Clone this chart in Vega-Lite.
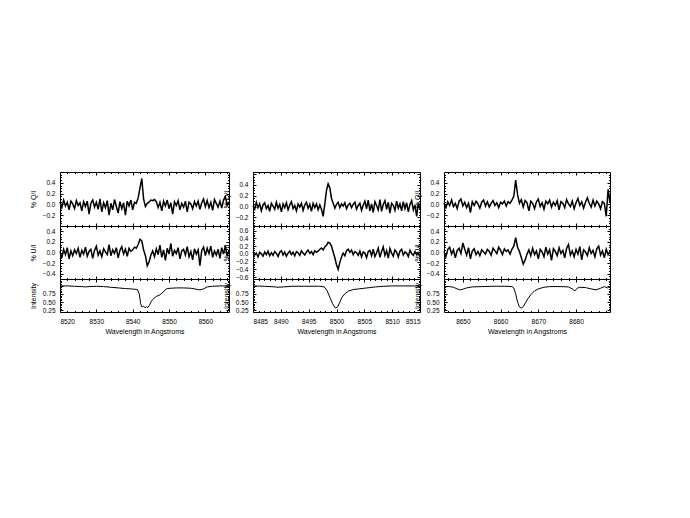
{
  "$schema": "https://vega.github.io/schema/vega-lite/v6.json",
  "autosize": {"type": "none"},
  "padding": {"left": 60, "top": 172, "right": 630, "bottom": 346},
  "background": "white",
  "config": {
    "view": {"stroke": "black", "strokeWidth": 1},
    "axis": {"grid": false, "domain": false, "tickColor": "black", "labelPadding": 8, "labelFontSize": 6.5, "titleFontSize": 7, "labelFont": "Liberation Sans", "titleFont": "Liberation Sans", "labelColor": "black", "titleColor": "black", "titleFontWeight": "normal", "titlePadding": 6, "labelOverlap": false},
    "axisX": {"titlePadding": 1},
    "axisTop": {"labels": false, "title": null},
    "axisRight": {"labels": false, "title": null},
    "line": {"color": "black", "strokeWidth": 1.5, "clip": true}
  },
  "datasets": {
    "q1": [{"w":8520.0,"v":0.05},{"w":8520.5,"v":-0.06},{"w":8521.0,"v":0.08},{"w":8521.5,"v":-0.03},{"w":8522.0,"v":0.04},{"w":8522.5,"v":-0.10},{"w":8523.0,"v":0.06},{"w":8523.5,"v":0.01},{"w":8524.0,"v":-0.08},{"w":8524.5,"v":0.07},{"w":8525.0,"v":-0.02},{"w":8525.5,"v":0.03},{"w":8526.0,"v":-0.12},{"w":8526.5,"v":0.05},{"w":8527.0,"v":-0.04},{"w":8527.5,"v":0.06},{"w":8528.0,"v":-0.18},{"w":8528.5,"v":0.02},{"w":8529.0,"v":0.08},{"w":8529.5,"v":-0.05},{"w":8530.0,"v":0.04},{"w":8530.5,"v":-0.09},{"w":8531.0,"v":0.10},{"w":8531.5,"v":-0.14},{"w":8532.0,"v":0.03},{"w":8532.5,"v":-0.06},{"w":8533.0,"v":0.07},{"w":8533.5,"v":-0.20},{"w":8534.0,"v":0.02},{"w":8534.5,"v":-0.10},{"w":8535.0,"v":0.09},{"w":8535.5,"v":-0.04},{"w":8536.0,"v":-0.16},{"w":8536.5,"v":0.05},{"w":8537.0,"v":-0.08},{"w":8537.5,"v":0.03},{"w":8538.0,"v":-0.20},{"w":8538.5,"v":0.06},{"w":8539.0,"v":-0.03},{"w":8539.5,"v":0.08},{"w":8540.0,"v":-0.10},{"w":8540.5,"v":0.04},{"w":8541.0,"v":0.02},{"w":8541.5,"v":0.12},{"w":8542.0,"v":0.30},{"w":8542.5,"v":0.48},{"w":8543.0,"v":0.10},{"w":8543.5,"v":-0.04},{"w":8544.0,"v":0.02},{"w":8544.5,"v":0.04},{"w":8545.0,"v":0.08},{"w":8545.5,"v":0.07},{"w":8546.0,"v":0.09},{"w":8546.5,"v":0.05},{"w":8547.0,"v":-0.06},{"w":8547.5,"v":0.04},{"w":8548.0,"v":-0.12},{"w":8548.5,"v":0.06},{"w":8549.0,"v":-0.03},{"w":8549.5,"v":0.08},{"w":8550.0,"v":-0.08},{"w":8550.5,"v":0.03},{"w":8551.0,"v":-0.18},{"w":8551.5,"v":0.05},{"w":8552.0,"v":-0.02},{"w":8552.5,"v":0.07},{"w":8553.0,"v":-0.10},{"w":8553.5,"v":0.02},{"w":8554.0,"v":-0.05},{"w":8554.5,"v":0.06},{"w":8555.0,"v":-0.14},{"w":8555.5,"v":0.04},{"w":8556.0,"v":0.01},{"w":8556.5,"v":-0.08},{"w":8557.0,"v":0.05},{"w":8557.5,"v":-0.03},{"w":8558.0,"v":0.06},{"w":8558.5,"v":-0.09},{"w":8559.0,"v":0.03},{"w":8559.5,"v":0.10},{"w":8560.0,"v":-0.04},{"w":8560.5,"v":0.07},{"w":8561.0,"v":-0.06},{"w":8561.5,"v":0.04},{"w":8562.0,"v":-0.11},{"w":8562.5,"v":0.09},{"w":8563.0,"v":0.02},{"w":8563.5,"v":-0.05},{"w":8564.0,"v":0.06},{"w":8564.5,"v":-0.07},{"w":8565.0,"v":0.08},{"w":8565.5,"v":0.14},{"w":8566.0,"v":-0.02},{"w":8566.5,"v":0.05}],
    "u1": [{"w":8520.0,"v":0.02},{"w":8520.5,"v":-0.10},{"w":8521.0,"v":0.06},{"w":8521.5,"v":-0.04},{"w":8522.0,"v":0.09},{"w":8522.5,"v":-0.12},{"w":8523.0,"v":0.03},{"w":8523.5,"v":-0.06},{"w":8524.0,"v":0.05},{"w":8524.5,"v":-0.02},{"w":8525.0,"v":0.08},{"w":8525.5,"v":-0.09},{"w":8526.0,"v":0.04},{"w":8526.5,"v":-0.03},{"w":8527.0,"v":0.10},{"w":8527.5,"v":-0.07},{"w":8528.0,"v":0.02},{"w":8528.5,"v":0.06},{"w":8529.0,"v":-0.11},{"w":8529.5,"v":0.04},{"w":8530.0,"v":0.12},{"w":8530.5,"v":-0.05},{"w":8531.0,"v":0.03},{"w":8531.5,"v":-0.08},{"w":8532.0,"v":0.07},{"w":8532.5,"v":0.01},{"w":8533.0,"v":-0.04},{"w":8533.5,"v":0.15},{"w":8534.0,"v":-0.06},{"w":8534.5,"v":0.05},{"w":8535.0,"v":-0.02},{"w":8535.5,"v":0.09},{"w":8536.0,"v":-0.10},{"w":8536.5,"v":0.04},{"w":8537.0,"v":0.11},{"w":8537.5,"v":-0.03},{"w":8538.0,"v":0.06},{"w":8538.5,"v":-0.07},{"w":8539.0,"v":0.08},{"w":8539.5,"v":0.02},{"w":8540.0,"v":0.05},{"w":8540.5,"v":0.10},{"w":8541.0,"v":0.08},{"w":8541.5,"v":0.15},{"w":8542.0,"v":0.25},{"w":8542.5,"v":0.22},{"w":8543.0,"v":0.05},{"w":8543.5,"v":-0.06},{"w":8544.0,"v":-0.25},{"w":8544.5,"v":-0.18},{"w":8545.0,"v":-0.05},{"w":8545.5,"v":0.03},{"w":8546.0,"v":-0.08},{"w":8546.5,"v":0.07},{"w":8547.0,"v":-0.04},{"w":8547.5,"v":0.14},{"w":8548.0,"v":-0.09},{"w":8548.5,"v":0.05},{"w":8549.0,"v":-0.15},{"w":8549.5,"v":0.08},{"w":8550.0,"v":-0.03},{"w":8550.5,"v":0.17},{"w":8551.0,"v":-0.07},{"w":8551.5,"v":0.04},{"w":8552.0,"v":-0.02},{"w":8552.5,"v":0.09},{"w":8553.0,"v":-0.12},{"w":8553.5,"v":0.03},{"w":8554.0,"v":0.06},{"w":8554.5,"v":-0.05},{"w":8555.0,"v":0.11},{"w":8555.5,"v":-0.08},{"w":8556.0,"v":0.02},{"w":8556.5,"v":-0.14},{"w":8557.0,"v":0.07},{"w":8557.5,"v":-0.03},{"w":8558.0,"v":0.05},{"w":8558.5,"v":-0.25},{"w":8559.0,"v":0.04},{"w":8559.5,"v":0.10},{"w":8560.0,"v":-0.06},{"w":8560.5,"v":0.08},{"w":8561.0,"v":-0.02},{"w":8561.5,"v":0.12},{"w":8562.0,"v":-0.09},{"w":8562.5,"v":0.03},{"w":8563.0,"v":-0.05},{"w":8563.5,"v":0.06},{"w":8564.0,"v":-0.11},{"w":8564.5,"v":0.09},{"w":8565.0,"v":-0.03},{"w":8565.5,"v":0.13},{"w":8566.0,"v":-0.07},{"w":8566.5,"v":0.04}],
    "i1": [{"w":8520,"v":0.99},{"w":8522,"v":0.99},{"w":8524,"v":0.98},{"w":8526,"v":0.97},{"w":8527,"v":0.96},{"w":8528,"v":0.97},{"w":8530,"v":0.98},{"w":8532,"v":0.97},{"w":8534,"v":0.95},{"w":8536,"v":0.93},{"w":8538,"v":0.91},{"w":8539.5,"v":0.90},{"w":8540.5,"v":0.89},{"w":8541.3,"v":0.88},{"w":8541.8,"v":0.75},{"w":8542.2,"v":0.45},{"w":8542.6,"v":0.35},{"w":8543.0,"v":0.38},{"w":8543.4,"v":0.33},{"w":8543.8,"v":0.36},{"w":8544.2,"v":0.34},{"w":8544.6,"v":0.40},{"w":8545.0,"v":0.50},{"w":8545.5,"v":0.58},{"w":8546.0,"v":0.63},{"w":8546.5,"v":0.67},{"w":8547.5,"v":0.72},{"w":8548.5,"v":0.82},{"w":8549.0,"v":0.88},{"w":8549.5,"v":0.91},{"w":8550.5,"v":0.92},{"w":8552,"v":0.93},{"w":8554,"v":0.93},{"w":8556,"v":0.92},{"w":8557.5,"v":0.89},{"w":8558.5,"v":0.87},{"w":8559.5,"v":0.90},{"w":8560.5,"v":0.96},{"w":8562,"v":0.98},{"w":8564,"v":0.99},{"w":8566.5,"v":0.99}],
    "q2": [{"w":8485.0,"v":0.02},{"w":8485.3,"v":-0.05},{"w":8485.6,"v":0.08},{"w":8485.9,"v":-0.02},{"w":8486.2,"v":0.05},{"w":8486.5,"v":-0.08},{"w":8486.8,"v":0.03},{"w":8487.1,"v":0.07},{"w":8487.4,"v":-0.04},{"w":8487.7,"v":0.02},{"w":8488.0,"v":-0.09},{"w":8488.3,"v":0.06},{"w":8488.6,"v":0.01},{"w":8488.9,"v":-0.05},{"w":8489.2,"v":0.08},{"w":8489.5,"v":-0.03},{"w":8489.8,"v":0.04},{"w":8490.1,"v":-0.10},{"w":8490.4,"v":0.05},{"w":8490.7,"v":-0.02},{"w":8491.0,"v":0.07},{"w":8491.3,"v":-0.06},{"w":8491.6,"v":0.03},{"w":8491.9,"v":0.09},{"w":8492.2,"v":-0.04},{"w":8492.5,"v":0.02},{"w":8492.8,"v":-0.08},{"w":8493.1,"v":0.05},{"w":8493.4,"v":-0.01},{"w":8493.7,"v":0.06},{"w":8494.0,"v":-0.07},{"w":8494.3,"v":0.03},{"w":8494.6,"v":0.08},{"w":8494.9,"v":-0.03},{"w":8495.2,"v":0.04},{"w":8495.5,"v":-0.09},{"w":8495.8,"v":0.06},{"w":8496.1,"v":-0.02},{"w":8496.4,"v":0.05},{"w":8496.7,"v":-0.06},{"w":8497.0,"v":0.03},{"w":8497.3,"v":-0.05},{"w":8497.6,"v":-0.18},{"w":8497.9,"v":0.05},{"w":8498.2,"v":0.30},{"w":8498.5,"v":0.42},{"w":8498.8,"v":0.35},{"w":8499.1,"v":0.15},{"w":8499.4,"v":0.06},{"w":8499.7,"v":-0.03},{"w":8500.0,"v":0.04},{"w":8500.3,"v":0.08},{"w":8500.6,"v":-0.02},{"w":8500.9,"v":0.05},{"w":8501.2,"v":0.01},{"w":8501.5,"v":0.07},{"w":8501.8,"v":-0.04},{"w":8502.1,"v":0.03},{"w":8502.4,"v":0.06},{"w":8502.7,"v":-0.02},{"w":8503.0,"v":0.04},{"w":8503.3,"v":0.08},{"w":8503.6,"v":-0.05},{"w":8503.9,"v":0.02},{"w":8504.2,"v":0.06},{"w":8504.5,"v":-0.07},{"w":8504.8,"v":0.03},{"w":8505.1,"v":0.10},{"w":8505.4,"v":-0.04},{"w":8505.7,"v":0.12},{"w":8506.0,"v":-0.08},{"w":8506.3,"v":0.05},{"w":8506.6,"v":-0.11},{"w":8506.9,"v":0.09},{"w":8507.2,"v":0.02},{"w":8507.5,"v":-0.06},{"w":8507.8,"v":0.13},{"w":8508.1,"v":-0.09},{"w":8508.4,"v":0.04},{"w":8508.7,"v":0.11},{"w":8509.0,"v":-0.05},{"w":8509.3,"v":0.08},{"w":8509.6,"v":-0.12},{"w":8509.9,"v":0.06},{"w":8510.2,"v":0.02},{"w":8510.5,"v":-0.07},{"w":8510.8,"v":0.10},{"w":8511.1,"v":-0.03},{"w":8511.4,"v":0.05},{"w":8511.7,"v":-0.08},{"w":8512.0,"v":0.09},{"w":8512.3,"v":-0.04},{"w":8512.6,"v":0.07},{"w":8512.9,"v":-0.10},{"w":8513.2,"v":0.04},{"w":8513.5,"v":0.11},{"w":8513.8,"v":-0.06},{"w":8514.1,"v":0.03},{"w":8514.4,"v":-0.18},{"w":8514.7,"v":0.06},{"w":8515.0,"v":-0.04}],
    "u2": [{"w":8485.0,"v":0.05},{"w":8485.3,"v":-0.03},{"w":8485.6,"v":0.02},{"w":8485.9,"v":-0.08},{"w":8486.2,"v":0.04},{"w":8486.5,"v":0.00},{"w":8486.8,"v":-0.06},{"w":8487.1,"v":0.05},{"w":8487.4,"v":-0.02},{"w":8487.7,"v":0.07},{"w":8488.0,"v":-0.05},{"w":8488.3,"v":0.03},{"w":8488.6,"v":-0.04},{"w":8488.9,"v":0.06},{"w":8489.2,"v":0.01},{"w":8489.5,"v":-0.07},{"w":8489.8,"v":0.04},{"w":8490.1,"v":0.08},{"w":8490.4,"v":-0.03},{"w":8490.7,"v":0.05},{"w":8491.0,"v":-0.06},{"w":8491.3,"v":0.02},{"w":8491.6,"v":0.07},{"w":8491.9,"v":-0.02},{"w":8492.2,"v":0.04},{"w":8492.5,"v":-0.05},{"w":8492.8,"v":0.06},{"w":8493.1,"v":0.03},{"w":8493.4,"v":-0.04},{"w":8493.7,"v":0.08},{"w":8494.0,"v":0.02},{"w":8494.3,"v":-0.03},{"w":8494.6,"v":0.05},{"w":8494.9,"v":0.10},{"w":8495.2,"v":0.01},{"w":8495.5,"v":0.06},{"w":8495.8,"v":-0.02},{"w":8496.1,"v":0.08},{"w":8496.4,"v":0.04},{"w":8496.7,"v":0.07},{"w":8497.0,"v":0.12},{"w":8497.3,"v":0.15},{"w":8497.6,"v":0.10},{"w":8497.9,"v":0.18},{"w":8498.2,"v":0.22},{"w":8498.5,"v":0.30},{"w":8498.8,"v":0.28},{"w":8499.1,"v":0.20},{"w":8499.4,"v":0.05},{"w":8499.7,"v":-0.10},{"w":8500.0,"v":-0.28},{"w":8500.3,"v":-0.40},{"w":8500.6,"v":-0.22},{"w":8500.9,"v":-0.08},{"w":8501.2,"v":0.02},{"w":8501.5,"v":-0.05},{"w":8501.8,"v":0.08},{"w":8502.1,"v":0.12},{"w":8502.4,"v":0.04},{"w":8502.7,"v":0.10},{"w":8503.0,"v":-0.02},{"w":8503.3,"v":0.06},{"w":8503.6,"v":0.03},{"w":8503.9,"v":-0.04},{"w":8504.2,"v":0.07},{"w":8504.5,"v":-0.08},{"w":8504.8,"v":0.05},{"w":8505.1,"v":0.02},{"w":8505.4,"v":-0.10},{"w":8505.7,"v":0.06},{"w":8506.0,"v":0.09},{"w":8506.3,"v":-0.05},{"w":8506.6,"v":0.12},{"w":8506.9,"v":-0.07},{"w":8507.2,"v":0.03},{"w":8507.5,"v":0.15},{"w":8507.8,"v":-0.09},{"w":8508.1,"v":0.06},{"w":8508.4,"v":0.18},{"w":8508.7,"v":-0.04},{"w":8509.0,"v":0.08},{"w":8509.3,"v":-0.11},{"w":8509.6,"v":0.14},{"w":8509.9,"v":0.02},{"w":8510.2,"v":-0.06},{"w":8510.5,"v":0.10},{"w":8510.8,"v":0.04},{"w":8511.1,"v":-0.08},{"w":8511.4,"v":0.07},{"w":8511.7,"v":0.12},{"w":8512.0,"v":-0.03},{"w":8512.3,"v":0.05},{"w":8512.6,"v":0.02},{"w":8512.9,"v":-0.07},{"w":8513.2,"v":0.09},{"w":8513.5,"v":0.01},{"w":8513.8,"v":-0.04},{"w":8514.1,"v":0.06},{"w":8514.4,"v":-0.02},{"w":8514.7,"v":0.03},{"w":8515.0,"v":-0.05}],
    "i2": [{"w":8485,"v":0.99},{"w":8487,"v":0.98},{"w":8489,"v":0.96},{"w":8489.5,"v":0.95},{"w":8490.5,"v":0.96},{"w":8492,"v":0.98},{"w":8494,"v":0.98},{"w":8496,"v":0.98},{"w":8497,"v":0.98},{"w":8497.8,"v":0.96},{"w":8498.3,"v":0.85},{"w":8498.8,"v":0.65},{"w":8499.3,"v":0.45},{"w":8499.8,"v":0.32},{"w":8500.2,"v":0.35},{"w":8500.6,"v":0.50},{"w":8501.0,"v":0.65},{"w":8501.5,"v":0.75},{"w":8502.2,"v":0.84},{"w":8503,"v":0.88},{"w":8504,"v":0.90},{"w":8505,"v":0.92},{"w":8506,"v":0.94},{"w":8507,"v":0.96},{"w":8508.5,"v":0.98},{"w":8510,"v":0.99},{"w":8512,"v":0.99},{"w":8514,"v":0.99},{"w":8514.7,"v":1.00},{"w":8515,"v":1.03}],
    "q3": [{"w":8645.0,"v":0.03},{"w":8645.5,"v":-0.06},{"w":8646.0,"v":0.05},{"w":8646.5,"v":-0.02},{"w":8647.0,"v":0.08},{"w":8647.5,"v":-0.04},{"w":8648.0,"v":0.02},{"w":8648.5,"v":-0.08},{"w":8649.0,"v":0.06},{"w":8649.5,"v":0.10},{"w":8650.0,"v":-0.03},{"w":8650.5,"v":0.04},{"w":8651.0,"v":-0.06},{"w":8651.5,"v":0.02},{"w":8652.0,"v":-0.15},{"w":8652.5,"v":0.05},{"w":8653.0,"v":-0.02},{"w":8653.5,"v":0.06},{"w":8654.0,"v":0.01},{"w":8654.5,"v":-0.07},{"w":8655.0,"v":0.04},{"w":8655.5,"v":0.08},{"w":8656.0,"v":-0.03},{"w":8656.5,"v":0.05},{"w":8657.0,"v":-0.05},{"w":8657.5,"v":0.02},{"w":8658.0,"v":0.07},{"w":8658.5,"v":-0.02},{"w":8659.0,"v":0.03},{"w":8659.5,"v":-0.06},{"w":8660.0,"v":0.04},{"w":8660.5,"v":0.01},{"w":8661.0,"v":0.06},{"w":8661.5,"v":-0.03},{"w":8662.0,"v":0.05},{"w":8662.5,"v":0.02},{"w":8663.0,"v":0.08},{"w":8663.5,"v":0.15},{"w":8664.0,"v":0.45},{"w":8664.5,"v":0.18},{"w":8665.0,"v":0.02},{"w":8665.5,"v":0.09},{"w":8666.0,"v":-0.05},{"w":8666.5,"v":0.07},{"w":8667.0,"v":0.03},{"w":8667.5,"v":-0.12},{"w":8668.0,"v":0.06},{"w":8668.5,"v":0.02},{"w":8669.0,"v":-0.08},{"w":8669.5,"v":0.05},{"w":8670.0,"v":0.10},{"w":8670.5,"v":-0.04},{"w":8671.0,"v":0.03},{"w":8671.5,"v":-0.09},{"w":8672.0,"v":0.06},{"w":8672.5,"v":0.01},{"w":8673.0,"v":0.08},{"w":8673.5,"v":-0.05},{"w":8674.0,"v":0.04},{"w":8674.5,"v":-0.02},{"w":8675.0,"v":0.07},{"w":8675.5,"v":-0.10},{"w":8676.0,"v":0.05},{"w":8676.5,"v":0.02},{"w":8677.0,"v":-0.06},{"w":8677.5,"v":0.09},{"w":8678.0,"v":0.01},{"w":8678.5,"v":-0.04},{"w":8679.0,"v":0.06},{"w":8679.5,"v":-0.08},{"w":8680.0,"v":0.03},{"w":8680.5,"v":0.11},{"w":8681.0,"v":-0.02},{"w":8681.5,"v":0.05},{"w":8682.0,"v":-0.07},{"w":8682.5,"v":0.04},{"w":8683.0,"v":0.12},{"w":8683.5,"v":0.02},{"w":8684.0,"v":-0.05},{"w":8684.5,"v":0.08},{"w":8685.0,"v":-0.03},{"w":8685.5,"v":0.06},{"w":8686.0,"v":0.01},{"w":8686.5,"v":-0.08},{"w":8687.0,"v":0.05},{"w":8687.5,"v":0.02},{"w":8688.0,"v":-0.22},{"w":8688.5,"v":0.28},{"w":8689.0,"v":0.03}],
    "u3": [{"w":8645.0,"v":0.02},{"w":8645.5,"v":-0.08},{"w":8646.0,"v":0.06},{"w":8646.5,"v":0.10},{"w":8647.0,"v":-0.03},{"w":8647.5,"v":0.05},{"w":8648.0,"v":-0.10},{"w":8648.5,"v":0.04},{"w":8649.0,"v":0.08},{"w":8649.5,"v":-0.02},{"w":8650.0,"v":0.18},{"w":8650.5,"v":0.06},{"w":8651.0,"v":-0.05},{"w":8651.5,"v":0.09},{"w":8652.0,"v":-0.12},{"w":8652.5,"v":0.03},{"w":8653.0,"v":0.07},{"w":8653.5,"v":-0.04},{"w":8654.0,"v":0.02},{"w":8654.5,"v":-0.06},{"w":8655.0,"v":0.05},{"w":8655.5,"v":0.01},{"w":8656.0,"v":-0.03},{"w":8656.5,"v":0.06},{"w":8657.0,"v":0.02},{"w":8657.5,"v":-0.05},{"w":8658.0,"v":0.08},{"w":8658.5,"v":0.03},{"w":8659.0,"v":-0.02},{"w":8659.5,"v":0.10},{"w":8660.0,"v":0.04},{"w":8660.5,"v":-0.04},{"w":8661.0,"v":0.07},{"w":8661.5,"v":0.02},{"w":8662.0,"v":0.05},{"w":8662.5,"v":-0.03},{"w":8663.0,"v":0.06},{"w":8663.5,"v":0.12},{"w":8664.0,"v":0.28},{"w":8664.5,"v":0.10},{"w":8665.0,"v":0.02},{"w":8665.5,"v":-0.10},{"w":8666.0,"v":-0.22},{"w":8666.5,"v":-0.14},{"w":8667.0,"v":-0.03},{"w":8667.5,"v":0.05},{"w":8668.0,"v":-0.06},{"w":8668.5,"v":0.08},{"w":8669.0,"v":-0.04},{"w":8669.5,"v":0.03},{"w":8670.0,"v":-0.12},{"w":8670.5,"v":0.06},{"w":8671.0,"v":0.01},{"w":8671.5,"v":-0.08},{"w":8672.0,"v":0.10},{"w":8672.5,"v":-0.03},{"w":8673.0,"v":0.05},{"w":8673.5,"v":-0.15},{"w":8674.0,"v":0.07},{"w":8674.5,"v":0.02},{"w":8675.0,"v":-0.06},{"w":8675.5,"v":0.09},{"w":8676.0,"v":-0.02},{"w":8676.5,"v":0.04},{"w":8677.0,"v":-0.10},{"w":8677.5,"v":0.08},{"w":8678.0,"v":0.15},{"w":8678.5,"v":-0.05},{"w":8679.0,"v":0.03},{"w":8679.5,"v":-0.08},{"w":8680.0,"v":0.06},{"w":8680.5,"v":-0.03},{"w":8681.0,"v":0.11},{"w":8681.5,"v":-0.14},{"w":8682.0,"v":0.05},{"w":8682.5,"v":0.01},{"w":8683.0,"v":-0.06},{"w":8683.5,"v":0.09},{"w":8684.0,"v":-0.02},{"w":8684.5,"v":0.04},{"w":8685.0,"v":-0.08},{"w":8685.5,"v":0.07},{"w":8686.0,"v":0.12},{"w":8686.5,"v":-0.05},{"w":8687.0,"v":0.03},{"w":8687.5,"v":-0.10},{"w":8688.0,"v":0.06},{"w":8688.5,"v":-0.04},{"w":8689.0,"v":0.02}],
    "i3": [{"w":8645,"v":0.97},{"w":8646.5,"v":0.97},{"w":8647.5,"v":0.95},{"w":8648.5,"v":0.90},{"w":8649.3,"v":0.87},{"w":8650,"v":0.89},{"w":8651,"v":0.93},{"w":8652.5,"v":0.96},{"w":8655,"v":0.97},{"w":8658,"v":0.98},{"w":8661,"v":0.98},{"w":8663,"v":0.97},{"w":8663.5,"v":0.93},{"w":8664,"v":0.75},{"w":8664.5,"v":0.50},{"w":8665,"v":0.35},{"w":8665.5,"v":0.32},{"w":8666,"v":0.36},{"w":8666.6,"v":0.48},{"w":8667.2,"v":0.60},{"w":8668,"v":0.72},{"w":8669,"v":0.84},{"w":8670,"v":0.90},{"w":8671.5,"v":0.95},{"w":8673,"v":0.97},{"w":8676,"v":0.97},{"w":8678,"v":0.96},{"w":8679,"v":0.90},{"w":8679.7,"v":0.84},{"w":8680.3,"v":0.92},{"w":8681,"v":0.95},{"w":8682.5,"v":0.94},{"w":8684,"v":0.90},{"w":8685.3,"v":0.87},{"w":8686.5,"v":0.92},{"w":8687.5,"v":0.97},{"w":8688.3,"v":0.93},{"w":8689,"v":0.97}]
  },
  "bounds": "flush",
  "columns": 3,
  "spacing": {"row": 0, "column": 24},
  "concat": [
    {"width": 169, "height": 54, "data": {"name": "q1"},
     "resolve": {"axis": {"x": "independent", "y": "independent"}},
     "layer": [
      {"mark": "line", "encoding": {
       "x": {"field": "w", "type": "quantitative", "scale": {"domain": [8520, 8566.5], "nice": false, "zero": false}, "axis": {"values": [8520,8522,8524,8526,8528,8530,8532,8534,8536,8538,8540,8542,8544,8546,8548,8550,8552,8554,8556,8558,8560,8562,8564,8566], "labels": false, "title": null, "tickSize": {"condition": {"test": "datum.value % 10 == 0", "value": -3}, "value": -1.5}}},
       "y": {"field": "v", "type": "quantitative", "scale": {"domain": [-0.4, 0.6], "nice": false}, "axis": {"values": [-0.35,-0.3,-0.25,-0.2,-0.15,-0.1,-0.05,0,0.05,0.1,0.15,0.2,0.25,0.3,0.35,0.4,0.45,0.5,0.55], "format": ".1f", "labelExpr": "abs(round(datum.value*100)) % 20 == 0 && datum.value < 0.5 ? datum.label : ''", "tickSize": {"condition": {"test": "abs(round(datum.value*100)) % 20 == 0", "value": -3}, "value": -1.5}, "title": "% Q/I"}}}},
      {"mark": {"type": "line", "opacity": 0}, "encoding": {
       "x": {"field": "w", "type": "quantitative", "scale": {"domain": [8520, 8566.5], "nice": false, "zero": false}, "axis": {"orient": "top", "values": [8520,8522,8524,8526,8528,8530,8532,8534,8536,8538,8540,8542,8544,8546,8548,8550,8552,8554,8556,8558,8560,8562,8564,8566], "tickSize": {"condition": {"test": "datum.value % 10 == 0", "value": -3}, "value": -1.5}}},
       "y": {"field": "v", "type": "quantitative", "scale": {"domain": [-0.4, 0.6], "nice": false}, "axis": {"orient": "right", "values": [-0.35,-0.3,-0.25,-0.2,-0.15,-0.1,-0.05,0,0.05,0.1,0.15,0.2,0.25,0.3,0.35,0.4,0.45,0.5,0.55], "tickSize": {"condition": {"test": "abs(round(datum.value*100)) % 20 == 0", "value": -3}, "value": -1.5}}}}}
     ]},
    {"width": 167, "height": 54, "data": {"name": "q2"},
     "resolve": {"axis": {"x": "independent", "y": "independent"}},
     "layer": [
      {"mark": "line", "encoding": {
       "x": {"field": "w", "type": "quantitative", "scale": {"domain": [8485, 8515], "nice": false, "zero": false}, "axis": {"values": [8485,8486,8487,8488,8489,8490,8491,8492,8493,8494,8495,8496,8497,8498,8499,8500,8501,8502,8503,8504,8505,8506,8507,8508,8509,8510,8511,8512,8513,8514,8515], "labels": false, "title": null, "tickSize": {"condition": {"test": "datum.value % 5 == 0", "value": -3}, "value": -1.5}}},
       "y": {"field": "v", "type": "quantitative", "scale": {"domain": [-0.36, 0.64], "nice": false}, "axis": {"values": [-0.35,-0.3,-0.25,-0.2,-0.15,-0.1,-0.05,0,0.05,0.1,0.15,0.2,0.25,0.3,0.35,0.4,0.45,0.5,0.55,0.6], "format": ".1f", "labelExpr": "abs(round(datum.value*100)) % 20 == 0 && datum.value < 0.5 ? datum.label : ''", "tickSize": {"condition": {"test": "abs(round(datum.value*100)) % 20 == 0", "value": -3}, "value": -1.5}, "title": "% Q/I"}}}},
      {"mark": {"type": "line", "opacity": 0}, "encoding": {
       "x": {"field": "w", "type": "quantitative", "scale": {"domain": [8485, 8515], "nice": false, "zero": false}, "axis": {"orient": "top", "values": [8485,8486,8487,8488,8489,8490,8491,8492,8493,8494,8495,8496,8497,8498,8499,8500,8501,8502,8503,8504,8505,8506,8507,8508,8509,8510,8511,8512,8513,8514,8515], "tickSize": {"condition": {"test": "datum.value % 5 == 0", "value": -3}, "value": -1.5}}},
       "y": {"field": "v", "type": "quantitative", "scale": {"domain": [-0.36, 0.64], "nice": false}, "axis": {"orient": "right", "values": [-0.35,-0.3,-0.25,-0.2,-0.15,-0.1,-0.05,0,0.05,0.1,0.15,0.2,0.25,0.3,0.35,0.4,0.45,0.5,0.55,0.6], "tickSize": {"condition": {"test": "abs(round(datum.value*100)) % 20 == 0", "value": -3}, "value": -1.5}}}}}
     ]},
    {"width": 166, "height": 54, "data": {"name": "q3"},
     "resolve": {"axis": {"x": "independent", "y": "independent"}},
     "layer": [
      {"mark": "line", "encoding": {
       "x": {"field": "w", "type": "quantitative", "scale": {"domain": [8645, 8689], "nice": false, "zero": false}, "axis": {"values": [8646,8648,8650,8652,8654,8656,8658,8660,8662,8664,8666,8668,8670,8672,8674,8676,8678,8680,8682,8684,8686,8688], "labels": false, "title": null, "tickSize": {"condition": {"test": "datum.value % 10 == 0", "value": -3}, "value": -1.5}}},
       "y": {"field": "v", "type": "quantitative", "scale": {"domain": [-0.4, 0.6], "nice": false}, "axis": {"values": [-0.35,-0.3,-0.25,-0.2,-0.15,-0.1,-0.05,0,0.05,0.1,0.15,0.2,0.25,0.3,0.35,0.4,0.45,0.5,0.55], "format": ".1f", "labelExpr": "abs(round(datum.value*100)) % 20 == 0 && datum.value < 0.5 ? datum.label : ''", "tickSize": {"condition": {"test": "abs(round(datum.value*100)) % 20 == 0", "value": -3}, "value": -1.5}, "title": "% Q/I"}}}},
      {"mark": {"type": "line", "opacity": 0}, "encoding": {
       "x": {"field": "w", "type": "quantitative", "scale": {"domain": [8645, 8689], "nice": false, "zero": false}, "axis": {"orient": "top", "values": [8646,8648,8650,8652,8654,8656,8658,8660,8662,8664,8666,8668,8670,8672,8674,8676,8678,8680,8682,8684,8686,8688], "tickSize": {"condition": {"test": "datum.value % 10 == 0", "value": -3}, "value": -1.5}}},
       "y": {"field": "v", "type": "quantitative", "scale": {"domain": [-0.4, 0.6], "nice": false}, "axis": {"orient": "right", "values": [-0.35,-0.3,-0.25,-0.2,-0.15,-0.1,-0.05,0,0.05,0.1,0.15,0.2,0.25,0.3,0.35,0.4,0.45,0.5,0.55], "tickSize": {"condition": {"test": "abs(round(datum.value*100)) % 20 == 0", "value": -3}, "value": -1.5}}}}}
     ]},
    {"width": 169, "height": 53, "data": {"name": "u1"},
     "resolve": {"axis": {"x": "independent", "y": "independent"}},
     "layer": [
      {"mark": "line", "encoding": {
       "x": {"field": "w", "type": "quantitative", "scale": {"domain": [8520, 8566.5], "nice": false, "zero": false}, "axis": {"values": [8520,8522,8524,8526,8528,8530,8532,8534,8536,8538,8540,8542,8544,8546,8548,8550,8552,8554,8556,8558,8560,8562,8564,8566], "labels": false, "title": null, "tickSize": {"condition": {"test": "datum.value % 10 == 0", "value": -3}, "value": -1.5}}},
       "y": {"field": "v", "type": "quantitative", "scale": {"domain": [-0.5, 0.5], "nice": false}, "axis": {"values": [-0.45,-0.4,-0.35,-0.3,-0.25,-0.2,-0.15,-0.1,-0.05,0,0.05,0.1,0.15,0.2,0.25,0.3,0.35,0.4,0.45], "format": ".1f", "labelExpr": "abs(round(datum.value*100)) % 20 == 0 ? datum.label : ''", "tickSize": {"condition": {"test": "abs(round(datum.value*100)) % 20 == 0", "value": -3}, "value": -1.5}, "title": "% U/I"}}}},
      {"mark": {"type": "line", "opacity": 0}, "encoding": {
       "x": {"field": "w", "type": "quantitative", "scale": {"domain": [8520, 8566.5], "nice": false, "zero": false}, "axis": {"orient": "top", "values": [8520,8522,8524,8526,8528,8530,8532,8534,8536,8538,8540,8542,8544,8546,8548,8550,8552,8554,8556,8558,8560,8562,8564,8566], "tickSize": {"condition": {"test": "datum.value % 10 == 0", "value": -3}, "value": -1.5}}},
       "y": {"field": "v", "type": "quantitative", "scale": {"domain": [-0.5, 0.5], "nice": false}, "axis": {"orient": "right", "values": [-0.45,-0.4,-0.35,-0.3,-0.25,-0.2,-0.15,-0.1,-0.05,0,0.05,0.1,0.15,0.2,0.25,0.3,0.35,0.4,0.45], "tickSize": {"condition": {"test": "abs(round(datum.value*100)) % 20 == 0", "value": -3}, "value": -1.5}}}}}
     ]},
    {"width": 167, "height": 53, "data": {"name": "u2"},
     "resolve": {"axis": {"x": "independent", "y": "independent"}},
     "layer": [
      {"mark": "line", "encoding": {
       "x": {"field": "w", "type": "quantitative", "scale": {"domain": [8485, 8515], "nice": false, "zero": false}, "axis": {"values": [8485,8486,8487,8488,8489,8490,8491,8492,8493,8494,8495,8496,8497,8498,8499,8500,8501,8502,8503,8504,8505,8506,8507,8508,8509,8510,8511,8512,8513,8514,8515], "labels": false, "title": null, "tickSize": {"condition": {"test": "datum.value % 5 == 0", "value": -3}, "value": -1.5}}},
       "y": {"field": "v", "type": "quantitative", "scale": {"domain": [-0.65, 0.72], "nice": false}, "axis": {"values": [-0.6,-0.55,-0.5,-0.45,-0.4,-0.35,-0.3,-0.25,-0.2,-0.15,-0.1,-0.05,0,0.05,0.1,0.15,0.2,0.25,0.3,0.35,0.4,0.45,0.5,0.55,0.6,0.65,0.7], "format": ".1f", "labelExpr": "abs(round(datum.value*100)) % 20 == 0 ? datum.label : ''", "tickSize": {"condition": {"test": "abs(round(datum.value*100)) % 20 == 0", "value": -3}, "value": -1.5}, "title": "% U/I"}}}},
      {"mark": {"type": "line", "opacity": 0}, "encoding": {
       "x": {"field": "w", "type": "quantitative", "scale": {"domain": [8485, 8515], "nice": false, "zero": false}, "axis": {"orient": "top", "values": [8485,8486,8487,8488,8489,8490,8491,8492,8493,8494,8495,8496,8497,8498,8499,8500,8501,8502,8503,8504,8505,8506,8507,8508,8509,8510,8511,8512,8513,8514,8515], "tickSize": {"condition": {"test": "datum.value % 5 == 0", "value": -3}, "value": -1.5}}},
       "y": {"field": "v", "type": "quantitative", "scale": {"domain": [-0.65, 0.72], "nice": false}, "axis": {"orient": "right", "values": [-0.6,-0.55,-0.5,-0.45,-0.4,-0.35,-0.3,-0.25,-0.2,-0.15,-0.1,-0.05,0,0.05,0.1,0.15,0.2,0.25,0.3,0.35,0.4,0.45,0.5,0.55,0.6,0.65,0.7], "tickSize": {"condition": {"test": "abs(round(datum.value*100)) % 20 == 0", "value": -3}, "value": -1.5}}}}}
     ]},
    {"width": 166, "height": 53, "data": {"name": "u3"},
     "resolve": {"axis": {"x": "independent", "y": "independent"}},
     "layer": [
      {"mark": "line", "encoding": {
       "x": {"field": "w", "type": "quantitative", "scale": {"domain": [8645, 8689], "nice": false, "zero": false}, "axis": {"values": [8646,8648,8650,8652,8654,8656,8658,8660,8662,8664,8666,8668,8670,8672,8674,8676,8678,8680,8682,8684,8686,8688], "labels": false, "title": null, "tickSize": {"condition": {"test": "datum.value % 10 == 0", "value": -3}, "value": -1.5}}},
       "y": {"field": "v", "type": "quantitative", "scale": {"domain": [-0.5, 0.5], "nice": false}, "axis": {"values": [-0.45,-0.4,-0.35,-0.3,-0.25,-0.2,-0.15,-0.1,-0.05,0,0.05,0.1,0.15,0.2,0.25,0.3,0.35,0.4,0.45], "format": ".1f", "labelExpr": "abs(round(datum.value*100)) % 20 == 0 ? datum.label : ''", "tickSize": {"condition": {"test": "abs(round(datum.value*100)) % 20 == 0", "value": -3}, "value": -1.5}, "title": "% U/I"}}}},
      {"mark": {"type": "line", "opacity": 0}, "encoding": {
       "x": {"field": "w", "type": "quantitative", "scale": {"domain": [8645, 8689], "nice": false, "zero": false}, "axis": {"orient": "top", "values": [8646,8648,8650,8652,8654,8656,8658,8660,8662,8664,8666,8668,8670,8672,8674,8676,8678,8680,8682,8684,8686,8688], "tickSize": {"condition": {"test": "datum.value % 10 == 0", "value": -3}, "value": -1.5}}},
       "y": {"field": "v", "type": "quantitative", "scale": {"domain": [-0.5, 0.5], "nice": false}, "axis": {"orient": "right", "values": [-0.45,-0.4,-0.35,-0.3,-0.25,-0.2,-0.15,-0.1,-0.05,0,0.05,0.1,0.15,0.2,0.25,0.3,0.35,0.4,0.45], "tickSize": {"condition": {"test": "abs(round(datum.value*100)) % 20 == 0", "value": -3}, "value": -1.5}}}}}
     ]},
    {"width": 169, "height": 33, "data": {"name": "i1"},
     "resolve": {"axis": {"x": "independent", "y": "independent"}},
     "layer": [
      {"mark": {"type": "line", "strokeWidth": 1}, "encoding": {
       "x": {"field": "w", "type": "quantitative", "scale": {"domain": [8520, 8566.5], "nice": false, "zero": false}, "axis": {"values": [8520,8522,8524,8526,8528,8530,8532,8534,8536,8538,8540,8542,8544,8546,8548,8550,8552,8554,8556,8558,8560,8562,8564,8566], "format": "d", "labelExpr": "datum.value % 10 == 0 ? datum.label : ''", "labelPadding": 9, "tickSize": {"condition": {"test": "datum.value % 10 == 0", "value": -3}, "value": -1.5}, "title": "Wavelength in Angstroms"}},
       "y": {"field": "v", "type": "quantitative", "scale": {"domain": [0.2, 1.2], "nice": false}, "axis": {"values": [0.25,0.3,0.35,0.4,0.45,0.5,0.55,0.6,0.65,0.7,0.75,0.8,0.85,0.9,0.95,1,1.05,1.1,1.15], "format": ".2f", "labelExpr": "round(datum.value*100) % 25 == 0 && datum.value < 0.9 ? datum.label : ''", "tickSize": {"condition": {"test": "round(datum.value*100) % 25 == 0", "value": -3}, "value": -1.5}, "title": "Intensity"}}}},
      {"mark": {"type": "line", "opacity": 0}, "encoding": {
       "x": {"field": "w", "type": "quantitative", "scale": {"domain": [8520, 8566.5], "nice": false, "zero": false}, "axis": {"orient": "top", "values": [8520,8522,8524,8526,8528,8530,8532,8534,8536,8538,8540,8542,8544,8546,8548,8550,8552,8554,8556,8558,8560,8562,8564,8566], "tickSize": {"condition": {"test": "datum.value % 10 == 0", "value": -3}, "value": -1.5}}},
       "y": {"field": "v", "type": "quantitative", "scale": {"domain": [0.2, 1.2], "nice": false}, "axis": {"orient": "right", "values": [0.25,0.3,0.35,0.4,0.45,0.5,0.55,0.6,0.65,0.7,0.75,0.8,0.85,0.9,0.95,1,1.05,1.1,1.15], "tickSize": {"condition": {"test": "round(datum.value*100) % 25 == 0", "value": -3}, "value": -1.5}}}}}
     ]},
    {"width": 167, "height": 33, "data": {"name": "i2"},
     "resolve": {"axis": {"x": "independent", "y": "independent"}},
     "layer": [
      {"mark": {"type": "line", "strokeWidth": 1}, "encoding": {
       "x": {"field": "w", "type": "quantitative", "scale": {"domain": [8485, 8515], "nice": false, "zero": false}, "axis": {"values": [8485,8486,8487,8488,8489,8490,8491,8492,8493,8494,8495,8496,8497,8498,8499,8500,8501,8502,8503,8504,8505,8506,8507,8508,8509,8510,8511,8512,8513,8514,8515], "format": "d", "labelExpr": "datum.value % 5 == 0 ? datum.label : ''", "labelPadding": 9, "tickSize": {"condition": {"test": "datum.value % 5 == 0", "value": -3}, "value": -1.5}, "title": "Wavelength in Angstroms"}},
       "y": {"field": "v", "type": "quantitative", "scale": {"domain": [0.2, 1.2], "nice": false}, "axis": {"values": [0.25,0.3,0.35,0.4,0.45,0.5,0.55,0.6,0.65,0.7,0.75,0.8,0.85,0.9,0.95,1,1.05,1.1,1.15], "format": ".2f", "labelExpr": "round(datum.value*100) % 25 == 0 && datum.value < 0.9 ? datum.label : ''", "tickSize": {"condition": {"test": "round(datum.value*100) % 25 == 0", "value": -3}, "value": -1.5}, "title": "Intensity"}}}},
      {"mark": {"type": "line", "opacity": 0}, "encoding": {
       "x": {"field": "w", "type": "quantitative", "scale": {"domain": [8485, 8515], "nice": false, "zero": false}, "axis": {"orient": "top", "values": [8485,8486,8487,8488,8489,8490,8491,8492,8493,8494,8495,8496,8497,8498,8499,8500,8501,8502,8503,8504,8505,8506,8507,8508,8509,8510,8511,8512,8513,8514,8515], "tickSize": {"condition": {"test": "datum.value % 5 == 0", "value": -3}, "value": -1.5}}},
       "y": {"field": "v", "type": "quantitative", "scale": {"domain": [0.2, 1.2], "nice": false}, "axis": {"orient": "right", "values": [0.25,0.3,0.35,0.4,0.45,0.5,0.55,0.6,0.65,0.7,0.75,0.8,0.85,0.9,0.95,1,1.05,1.1,1.15], "tickSize": {"condition": {"test": "round(datum.value*100) % 25 == 0", "value": -3}, "value": -1.5}}}}}
     ]},
    {"width": 166, "height": 33, "data": {"name": "i3"},
     "resolve": {"axis": {"x": "independent", "y": "independent"}},
     "layer": [
      {"mark": {"type": "line", "strokeWidth": 1}, "encoding": {
       "x": {"field": "w", "type": "quantitative", "scale": {"domain": [8645, 8689], "nice": false, "zero": false}, "axis": {"values": [8646,8648,8650,8652,8654,8656,8658,8660,8662,8664,8666,8668,8670,8672,8674,8676,8678,8680,8682,8684,8686,8688], "format": "d", "labelExpr": "datum.value % 10 == 0 ? datum.label : ''", "labelPadding": 9, "tickSize": {"condition": {"test": "datum.value % 10 == 0", "value": -3}, "value": -1.5}, "title": "Wavelength in Angstroms"}},
       "y": {"field": "v", "type": "quantitative", "scale": {"domain": [0.2, 1.2], "nice": false}, "axis": {"values": [0.25,0.3,0.35,0.4,0.45,0.5,0.55,0.6,0.65,0.7,0.75,0.8,0.85,0.9,0.95,1,1.05,1.1,1.15], "format": ".2f", "labelExpr": "round(datum.value*100) % 25 == 0 && datum.value < 0.9 ? datum.label : ''", "tickSize": {"condition": {"test": "round(datum.value*100) % 25 == 0", "value": -3}, "value": -1.5}, "title": "Intensity"}}}},
      {"mark": {"type": "line", "opacity": 0}, "encoding": {
       "x": {"field": "w", "type": "quantitative", "scale": {"domain": [8645, 8689], "nice": false, "zero": false}, "axis": {"orient": "top", "values": [8646,8648,8650,8652,8654,8656,8658,8660,8662,8664,8666,8668,8670,8672,8674,8676,8678,8680,8682,8684,8686,8688], "tickSize": {"condition": {"test": "datum.value % 10 == 0", "value": -3}, "value": -1.5}}},
       "y": {"field": "v", "type": "quantitative", "scale": {"domain": [0.2, 1.2], "nice": false}, "axis": {"orient": "right", "values": [0.25,0.3,0.35,0.4,0.45,0.5,0.55,0.6,0.65,0.7,0.75,0.8,0.85,0.9,0.95,1,1.05,1.1,1.15], "tickSize": {"condition": {"test": "round(datum.value*100) % 25 == 0", "value": -3}, "value": -1.5}}}}}
     ]}
  ]
}
